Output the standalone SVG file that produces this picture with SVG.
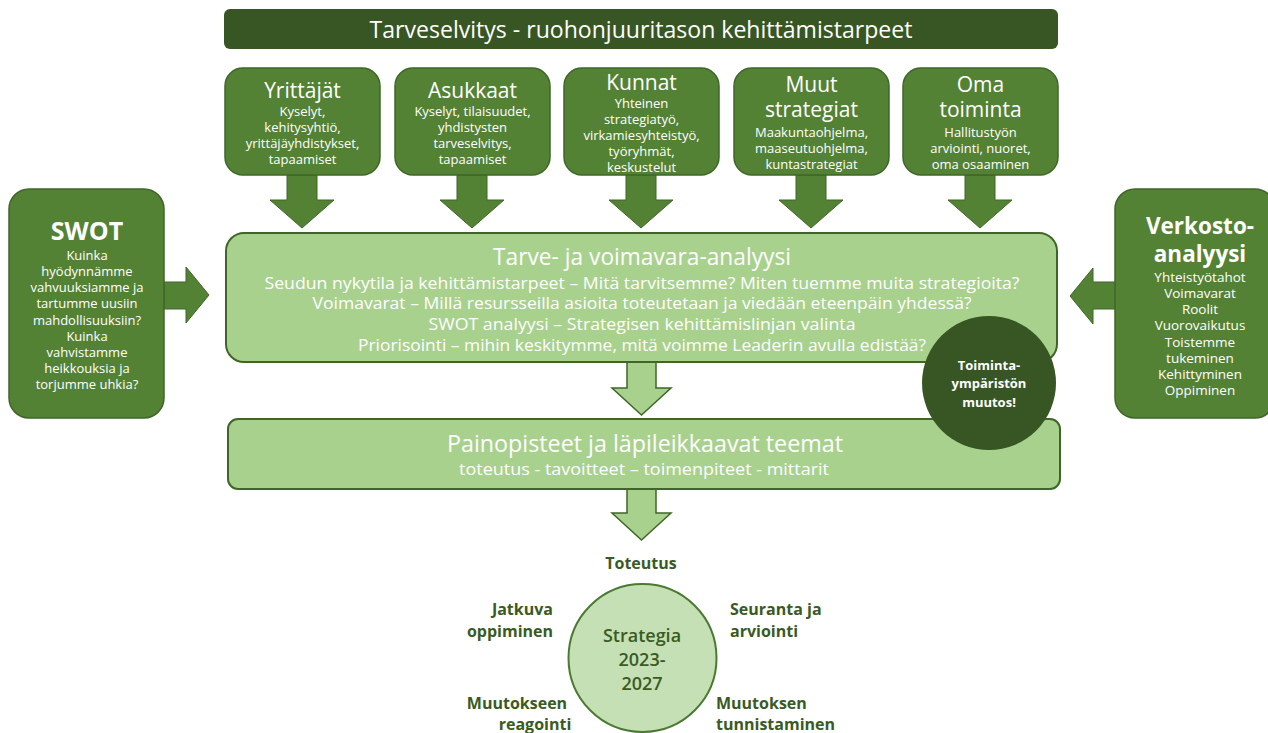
<svg xmlns="http://www.w3.org/2000/svg" width="1268" height="733" viewBox="0 0 1268 733">
<style>
text{font-family:"Open Sans","Noto Sans","Liberation Sans",sans-serif;text-anchor:middle}
.dark{fill:#548235;stroke:#3f6628;stroke-width:1.5}
.light{fill:#a9d18e;stroke:#3f6628;stroke-width:2}
.arrD{fill:#548235;stroke:#3f6628;stroke-width:1}
.arrL{fill:#a9d18e;stroke:#3f6628;stroke-width:1.5}
.w{fill:#ffffff}
.h{font-size:21px}
.b{font-size:13px}
.sb{font-size:13px}
.vb{font-size:13.5px}
.lab{fill:#3a5a23;font-size:16px;font-weight:bold}
.st{fill:#3a5a23;font-size:18px;font-weight:600}
</style>
<rect width="1268" height="733" fill="#ffffff"/>
<g id="connectors">
<polygon class="arrD" points="287,175 317,175 317,200 334,200 302,228 270,200 287,200"/>
<polygon class="arrD" points="457,175 487,175 487,200 504,200 472,228 440,200 457,200"/>
<polygon class="arrD" points="626,175 656,175 656,200 673,200 641,228 609,200 626,200"/>
<polygon class="arrD" points="796,175 826,175 826,200 843,200 811,228 779,200 796,200"/>
<polygon class="arrD" points="965,175 995,175 995,200 1012,200 980,228 948,200 965,200"/>
<polygon class="arrD" points="164,282 186,282 186,267 209,295 186,323 186,309 164,309"/>
<polygon class="arrD" points="1116,282 1093,282 1093,268 1070,296 1093,324 1093,309 1116,309"/>
<polygon class="arrL" points="627,362 656,362 656,388 671,388 641.5,415 612,388 627,388"/>
<polygon class="arrL" points="627,489 656,489 656,513 671,513 641.5,540 612,513 627,513"/>
</g>
<g id="title">
<rect x="224" y="9" width="834" height="40" rx="6" fill="#375623"/>
<text x="641" y="38" class="w" font-size="24" textLength="543" lengthAdjust="spacingAndGlyphs">Tarveselvitys - ruohonjuuritason kehittämistarpeet</text>
</g>
<g id="yrittajat">
<rect class="dark" x="225" y="68" width="155" height="107" rx="18"/>
<text x="302.5" y="98" class="w h">Yrittäjät</text>
<text x="302.5" class="w b"><tspan x="302.5" y="116">Kyselyt,</tspan><tspan x="302.5" y="132">kehitysyhtiö,</tspan><tspan x="302.5" y="148">yrittäjäyhdistykset,</tspan><tspan x="302.5" y="164">tapaamiset</tspan></text>
</g>
<g id="asukkaat">
<rect class="dark" x="395" y="68" width="155" height="107" rx="18"/>
<text x="472.5" y="98" class="w h">Asukkaat</text>
<text x="472.5" class="w b"><tspan x="472.5" y="116">Kyselyt, tilaisuudet,</tspan><tspan x="472.5" y="132">yhdistysten</tspan><tspan x="472.5" y="148">tarveselvitys,</tspan><tspan x="472.5" y="164">tapaamiset</tspan></text>
</g>
<g id="kunnat">
<rect class="dark" x="564" y="68" width="155" height="107" rx="18"/>
<text x="641.5" y="90" class="w h">Kunnat</text>
<text x="641.5" class="w b"><tspan x="641.5" y="108">Yhteinen</tspan><tspan x="641.5" y="124">strategiatyö,</tspan><tspan x="641.5" y="140">virkamiesyhteistyö,</tspan><tspan x="641.5" y="156">työryhmät,</tspan><tspan x="641.5" y="172">keskustelut</tspan></text>
</g>
<g id="muut">
<rect class="dark" x="734" y="68" width="155" height="107" rx="18"/>
<text x="811.5" y="92" class="w h">Muut</text>
<text x="811.5" y="117" class="w h">strategiat</text>
<text x="811.5" class="w b"><tspan x="811.5" y="137">Maakuntaohjelma,</tspan><tspan x="811.5" y="153">maaseutuohjelma,</tspan><tspan x="811.5" y="169">kuntastrategiat</tspan></text>
</g>
<g id="oma">
<rect class="dark" x="903" y="68" width="155" height="107" rx="18"/>
<text x="980.5" y="92" class="w h">Oma</text>
<text x="980.5" y="117" class="w h">toiminta</text>
<text x="980.5" class="w b"><tspan x="980.5" y="137">Hallitustyön</tspan><tspan x="980.5" y="153">arviointi, nuoret,</tspan><tspan x="980.5" y="169">oma osaaminen</tspan></text>
</g>
<g id="swot">
<rect class="dark" x="9" y="189" width="155" height="229" rx="20"/>
<text x="87" y="240" class="w" font-size="25" font-weight="bold">SWOT</text>
<text x="87" class="w sb"><tspan x="87" y="260">Kuinka</tspan><tspan x="87" y="276">hyödynnämme</tspan><tspan x="87" y="292">vahvuuksiamme ja</tspan><tspan x="87" y="308">tartumme uusiin</tspan><tspan x="87" y="325">mahdollisuuksiin?</tspan><tspan x="87" y="341">Kuinka</tspan><tspan x="87" y="357">vahvistamme</tspan><tspan x="87" y="373">heikkouksia ja</tspan><tspan x="87" y="389">torjumme uhkia?</tspan></text>
</g>
<g id="verkosto">
<rect class="dark" x="1115" y="189" width="160" height="229" rx="20"/>
<text x="1200" y="234" class="w" font-size="22.5" font-weight="bold">Verkosto-</text>
<text x="1200" y="262" class="w" font-size="22.5" font-weight="bold">analyysi</text>
<text x="1200" class="w vb"><tspan x="1200" y="282">Yhteistyötahot</tspan><tspan x="1200" y="298">Voimavarat</tspan><tspan x="1200" y="314">Roolit</tspan><tspan x="1200" y="330">Vuorovaikutus</tspan><tspan x="1200" y="347">Toistemme</tspan><tspan x="1200" y="363">tukeminen</tspan><tspan x="1200" y="379">Kehittyminen</tspan><tspan x="1200" y="395">Oppiminen</tspan></text>
</g>
<g id="analyysi">
<rect class="light" x="226" y="233" width="831" height="129" rx="18"/>
<text x="642" y="265" class="w" font-size="23" textLength="298" lengthAdjust="spacingAndGlyphs">Tarve- ja voimavara-analyysi</text>
<text x="642" y="289" class="w" font-size="17" textLength="755" lengthAdjust="spacingAndGlyphs">Seudun nykytila ja kehittämistarpeet – Mitä tarvitsemme? Miten tuemme muita strategioita?</text>
<text x="642" y="309" class="w" font-size="17" textLength="659" lengthAdjust="spacingAndGlyphs">Voimavarat – Millä resursseilla asioita toteutetaan ja viedään eteenpäin yhdessä?</text>
<text x="642" y="330" class="w" font-size="17" textLength="427" lengthAdjust="spacingAndGlyphs">SWOT analyysi  – Strategisen kehittämislinjan valinta</text>
<text x="642" y="351" class="w" font-size="17" textLength="568" lengthAdjust="spacingAndGlyphs">Priorisointi – mihin keskitymme, mitä voimme Leaderin avulla edistää?</text>
</g>
<g id="painopisteet">
<rect class="light" x="228" y="419" width="832" height="70" rx="10"/>
<text x="645" y="452" class="w" font-size="24" textLength="396" lengthAdjust="spacingAndGlyphs">Painopisteet ja läpileikkaavat teemat</text>
<text x="644" y="475" class="w" font-size="17" textLength="370" lengthAdjust="spacingAndGlyphs">toteutus - tavoitteet – toimenpiteet - mittarit</text>
</g>
<g id="toimintaymparisto">
<circle cx="989" cy="383" r="67" fill="#375623"/>
<text x="989" y="370" class="w" font-size="13" font-weight="bold">Toiminta-</text>
<text x="989" y="388" class="w" font-size="13" font-weight="bold">ympäristön</text>
<text x="989" y="407" class="w" font-size="13" font-weight="bold">muutos!</text>
</g>
<g id="strategia">
<circle cx="642.5" cy="658" r="74" fill="#c5e0b4" stroke="#4a7a32" stroke-width="2"/>
<text x="642" y="642" class="st">Strategia</text>
<text x="642" y="666" class="st">2023-</text>
<text x="642" y="690" class="st">2027</text>
</g>
<g id="labels">
<text x="641" y="569" class="lab">Toteutus</text>
<text x="553" y="615" class="lab" style="text-anchor:end">Jatkuva</text>
<text x="553" y="637" class="lab" style="text-anchor:end">oppiminen</text>
<text x="730" y="615" class="lab" style="text-anchor:start">Seuranta ja</text>
<text x="730" y="637" class="lab" style="text-anchor:start">arviointi</text>
<text x="517" y="709" class="lab">Muutokseen</text>
<text x="535" y="730" class="lab">reagointi</text>
<text x="716" y="709" class="lab" style="text-anchor:start">Muutoksen</text>
<text x="716" y="730" class="lab" style="text-anchor:start">tunnistaminen</text>
</g>
</svg>
